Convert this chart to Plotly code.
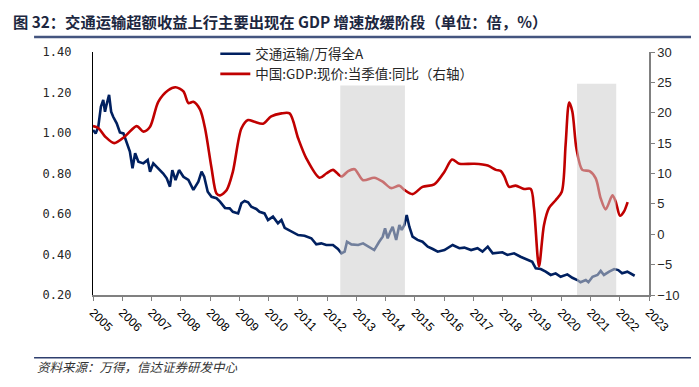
import plotly.graph_objects as go

# x positions are in axis "period" units (one unit per labelled tick)
tick_labels = ["2005", "2006", "2007", "2008", "2008", "2009", "2010", "2011", "2012", "2013",
               "2014", "2015", "2016", "2017", "2018", "2019", "2020", "2021", "2022", "2023"]

transport_t = [0.00, 0.09, 0.18, 0.27, 0.35, 0.41, 0.46, 0.55, 0.62, 0.69, 0.81, 0.92, 1.04, 1.15,
               1.26, 1.35, 1.44, 1.55, 1.72, 1.87, 1.95, 2.06, 2.23, 2.40, 2.52, 2.63, 2.71, 2.82,
               2.94, 3.09, 3.26, 3.43, 3.60, 3.71, 3.80, 3.92, 4.05, 4.22, 4.34, 4.51, 4.67, 4.78,
               4.96, 5.07, 5.18, 5.30, 5.41, 5.58, 5.69, 5.86, 5.98, 6.15, 6.32, 6.44, 6.55, 6.78,
               7.01, 7.23, 7.46, 7.63, 7.80, 7.97, 8.20, 8.37, 8.49, 8.60, 8.68, 8.83, 9.06, 9.23,
               9.44, 9.61, 9.78, 9.90, 9.98, 10.07, 10.16, 10.24, 10.36, 10.47, 10.55, 10.64, 10.72,
               10.81, 10.92, 11.09, 11.26, 11.44, 11.61, 11.78, 12.01, 12.29, 12.52, 12.69, 12.92,
               13.14, 13.31, 13.49, 13.66, 13.89, 13.99, 14.16, 14.39, 14.61, 14.84, 15.01, 15.13,
               15.30, 15.47, 15.64, 15.81, 15.98, 16.21, 16.38, 16.55, 16.66, 16.84, 16.93, 17.07,
               17.24, 17.35, 17.46, 17.64, 17.81, 17.95, 18.08, 18.26, 18.37, 18.51]
transport_ratio = [1.015, 0.998, 1.030, 1.130, 1.163, 1.105, 1.138, 1.188, 1.105, 1.080, 1.048, 1.003,
                   0.998, 0.957, 0.908, 0.826, 0.900, 0.858, 0.850, 0.867, 0.809, 0.850, 0.826, 0.800,
                   0.776, 0.735, 0.817, 0.768, 0.817, 0.784, 0.768, 0.719, 0.760, 0.809, 0.784, 0.710,
                   0.685, 0.678, 0.661, 0.630, 0.628, 0.611, 0.603, 0.653, 0.664, 0.658, 0.636, 0.625,
                   0.611, 0.603, 0.570, 0.587, 0.554, 0.570, 0.532, 0.516, 0.496, 0.493, 0.480, 0.450,
                   0.455, 0.447, 0.447, 0.427, 0.406, 0.414, 0.463, 0.450, 0.447, 0.455, 0.439, 0.422,
                   0.463, 0.488, 0.529, 0.480, 0.513, 0.537, 0.472, 0.546, 0.521, 0.546, 0.595, 0.537,
                   0.488, 0.472, 0.463, 0.439, 0.427, 0.414, 0.422, 0.447, 0.431, 0.434, 0.422, 0.431,
                   0.414, 0.439, 0.406, 0.411, 0.411, 0.398, 0.406, 0.389, 0.373, 0.364, 0.332, 0.328,
                   0.315, 0.299, 0.307, 0.290, 0.302, 0.285, 0.274, 0.263, 0.274, 0.263, 0.290, 0.299,
                   0.319, 0.299, 0.315, 0.328, 0.323, 0.307, 0.315, 0.307, 0.295]

gdp_t = [0.00, 0.18, 0.41, 0.73, 1.09, 1.49, 1.72, 1.95, 2.23, 2.57, 2.82, 3.09, 3.26, 3.43, 3.66,
         3.83, 4.05, 4.22, 4.34, 4.57, 4.78, 5.07, 5.30, 5.52, 5.81, 6.09, 6.44, 6.72, 7.01, 7.29,
         7.74, 7.97, 8.20, 8.49, 8.72, 8.94, 9.23, 9.61, 9.90, 10.18, 10.47, 10.64, 10.92, 11.26,
         11.66, 12.01, 12.27, 12.52, 13.03, 13.49, 13.77, 13.94, 14.06, 14.22, 14.44, 14.73, 14.96,
         15.07, 15.24, 15.41, 15.58, 15.81, 16.02, 16.15, 16.27, 16.38, 16.52, 16.72, 16.97, 17.18,
         17.35, 17.52, 17.75, 17.86, 18.01, 18.14, 18.27]
gdp_yoy = [17.8, 17.5, 16.1, 15.0, 16.1, 17.8, 16.9, 17.7, 21.8, 23.7, 24.2, 23.5, 21.6, 21.8, 20.5,
           17.4, 10.9, 6.7, 6.4, 7.3, 10.3, 17.4, 18.8, 18.5, 18.2, 19.4, 19.9, 19.9, 15.8, 12.5,
           9.3, 10.0, 10.6, 9.5, 10.4, 10.7, 8.9, 9.3, 8.65, 7.6, 8.0, 7.3, 6.6, 7.8,
           8.2, 10.3, 12.3, 11.6, 11.6, 11.3, 10.6, 10.4, 9.5, 7.8, 8.0, 7.45, 7.45,
           4.3, -5.3, 1.5, 4.3, 5.6, 7.0, 14.7, 21.7, 20.2, 14.1, 10.6, 10.4, 9.2,
           5.9, 4.1, 6.4, 5.4, 3.05, 3.7, 5.3]

# shaded phases (x-range in period units)
shade_ranges = [(8.45, 10.66), (16.54, 17.88)]
shade_top = [1.234, 1.243]

NAVY = "#002060"
RED = "#C00000"
TXT = "#262626"
LEG_FONT = dict(family="Noto Sans CJK SC", size=13.5, color=TXT)

fig = go.Figure()
fig.add_trace(go.Scatter(x=transport_t, y=transport_ratio, mode="lines", name="交通运输/万得全A",
                         line=dict(color=NAVY, width=2.6), yaxis="y", legend="legend"))
fig.add_trace(go.Scatter(x=gdp_t, y=gdp_yoy, mode="lines", name="中国:GDP:现价:当季值:同比（右轴）",
                         line=dict(color=RED, width=2.6, shape="spline", smoothing=0.8), yaxis="y2",
                         legend="legend2"))

for (x0, x1), top in zip(shade_ranges, shade_top):
    fig.add_shape(type="rect", xref="x", yref="y", x0=x0, x1=x1, y0=0.2, y1=top,
                  fillcolor="rgba(206,206,206,0.55)", line=dict(width=0), layer="above")

# title + rules + footer
fig.add_annotation(text="<b>图 32：交通运输超额收益上行主要出现在 GDP 增速放缓阶段（单位：倍，%）</b>",
                   xref="paper", yref="paper", x=-0.146, y=1.176, xanchor="left", yanchor="top",
                   borderpad=0,
                   showarrow=False, font=dict(family="Noto Sans CJK SC", size=15.3, color="#1c2740"))
fig.add_shape(type="line", xref="paper", yref="paper", x0=-0.106, x1=1.09, y0=1.062, y1=1.062,
              line=dict(color="#44557f", width=2.5))
fig.add_shape(type="line", xref="paper", yref="paper", x0=-0.106, x1=1.09, y0=-0.258, y1=-0.258,
              line=dict(color="#2e3f6e", width=1.5))
fig.add_annotation(text="<i>资料来源：万得，信达证券研发中心</i>",
                   xref="paper", yref="paper", x=-0.104, y=-0.296, xanchor="left", yanchor="middle",
                   showarrow=False, font=dict(family="Noto Sans CJK SC", size=12.5, color="#333333"))

fig.update_layout(
    template="none",
    width=699, height=387,
    # the page body adds an 8px offset, so the plot box is placed 8px up/left
    margin=dict(l=85, r=58, t=44, b=100, autoexpand=False),
    paper_bgcolor="white", plot_bgcolor="white",
    showlegend=True,
    legend=dict(x=0.22, y=0.992, xanchor="left", yanchor="middle", bgcolor="rgba(0,0,0,0)",
                font=LEG_FONT, itemwidth=30),
    legend2=dict(x=0.22, y=0.909, xanchor="left", yanchor="middle", bgcolor="rgba(0,0,0,0)",
                 font=LEG_FONT, itemwidth=30),
    xaxis=dict(range=[0, 19], tickvals=list(range(20)), ticktext=tick_labels, tickangle=45,
               automargin=False,
               showgrid=False, zeroline=False, showline=True, linecolor="#808080", linewidth=1.5,
               ticks="outside", ticklen=4, tickcolor="#808080",
               tickfont=dict(family="Liberation Sans, Arial", size=12, color="#000000")),
    yaxis=dict(range=[0.2, 1.4], dtick=0.2, tickformat=".2f", showgrid=False, zeroline=False,
               automargin=False,
               showline=True, linecolor="#000000", linewidth=1.2, ticks="", ticklabelstandoff=18,
               tickfont=dict(family="DejaVu Sans Mono", size=12, color=TXT)),
    yaxis2=dict(range=[-10, 30], dtick=5, overlaying="y", side="right", showgrid=False,
                automargin=False,
                zeroline=False, showline=True, linecolor="#808080", linewidth=1.5,
                ticks="outside", ticklen=4, tickcolor="#808080",
                tickfont=dict(family="Liberation Sans, Arial", size=13, color=TXT)),
)

fig.write_html("out.html")
